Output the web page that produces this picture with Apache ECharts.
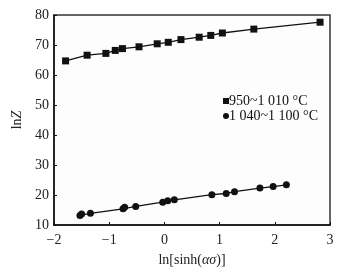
<!DOCTYPE html>
<html>
<head>
<meta charset="utf-8">
<script src="https://cdn.jsdelivr.net/npm/echarts@6/dist/echarts.min.js"></script>
<style>
  html, body { margin: 0; padding: 0; background: #fff; }
  #chart { width: 350px; height: 272px; }
</style>
</head>
<body>
<div id="chart"></div>
<script>
// 950~1 010 °C
const lowTempX = [-1.79, -1.40, -1.06, -0.89, -0.76, -0.46, -0.13, 0.07, 0.30, 0.63, 0.84, 1.05, 1.62, 2.82];
const lowTempY = [64.7, 66.6, 67.2, 68.2, 68.8, 69.4, 70.4, 70.9, 71.8, 72.6, 73.2, 74.0, 75.3, 77.6];
// 1 040~1 100 °C
const highTempX = [-1.53, -1.50, -1.34, -0.75, -0.72, -0.52, -0.03, 0.06, 0.18, 0.86, 1.12, 1.27, 1.73, 1.97, 2.21];
const highTempY = [13.2, 13.7, 13.9, 15.4, 15.9, 16.2, 17.6, 18.1, 18.4, 20.1, 20.5, 21.1, 22.3, 22.8, 23.4];

const seriesNames = ['950~1 010 °C', '1 040~1 100 °C'];

const serif = '"Liberation Serif", "DejaVu Serif", serif';
const ink = '#111';

function pairs(xs, ys) {
  return xs.map((x, i) => [x, ys[i]]);
}

const chart = echarts.init(document.getElementById('chart'), null, { renderer: 'canvas' });

const axisCommon = {
  axisLine: { show: true, onZero: false, lineStyle: { color: ink, width: 1.5 } },
  axisTick: { show: true, inside: true, length: 3, lineStyle: { color: ink } },
  axisLabel: {
    color: '#222', fontFamily: serif, fontSize: 14,
    formatter: (v) => String(v).replace('-', '\u2212')
  },
  splitLine: { show: false }
};

const nameRich = {
  n: { fontFamily: serif, fontSize: 14, color: '#222' },
  i: { fontFamily: serif, fontSize: 14, fontStyle: 'italic', color: '#222' }
};

chart.setOption({
  animation: false,
  backgroundColor: '#fff',
  grid: {
    left: 54, right: 20, top: 15, bottom: 44,
    show: true, borderColor: '#333', borderWidth: 1.5, backgroundColor: '#fdfdfd'
  },
  legend: {
    orient: 'vertical',
    left: 218, top: 89,
    itemWidth: 6, itemHeight: 6, itemGap: 1,
    textStyle: { color: ink, fontFamily: serif, fontSize: 14, padding: [0, 0, 0, -5], lineHeight: 14 },
    data: [
      { name: seriesNames[0], icon: 'rect' },
      { name: seriesNames[1], icon: 'circle' }
    ]
  },
  xAxis: {
    type: 'value', min: -2, max: 3, interval: 1,
    ...axisCommon,
    axisLabel: { ...axisCommon.axisLabel, margin: 8 },
    name: '{n|ln[sinh(}{i|ασ}{n|)]}',
    nameLocation: 'middle', nameGap: 28,
    nameTextStyle: { rich: nameRich }
  },
  yAxis: {
    type: 'value', min: 10, max: 80, interval: 10,
    ...axisCommon,
    axisLabel: { ...axisCommon.axisLabel, margin: 5 },
    name: '{n|ln}{i|Z}',
    nameLocation: 'middle', nameGap: 30, nameRotate: 90,
    nameTextStyle: { rich: nameRich }
  },
  series: [
    {
      name: seriesNames[0], type: 'line',
      data: pairs(lowTempX, lowTempY),
      symbol: 'rect', symbolSize: 7,
      itemStyle: { color: ink },
      lineStyle: { color: ink, width: 1.3 }
    },
    {
      name: seriesNames[1], type: 'line',
      data: pairs(highTempX, highTempY),
      symbol: 'circle', symbolSize: 7,
      itemStyle: { color: ink },
      lineStyle: { color: ink, width: 1.3 }
    }
  ]
});
</script>
</body>
</html>
